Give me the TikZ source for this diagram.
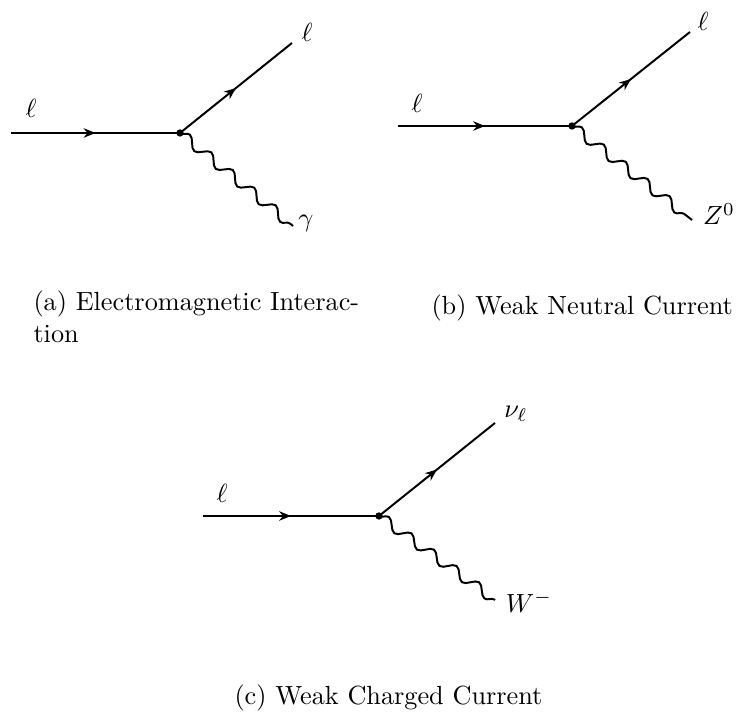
\documentclass[tikz,border=0pt]{standalone}
\usepackage{amsmath,amssymb}
\usetikzlibrary{positioning,arrows.meta,decorations.markings,decorations.pathmorphing}

\begin{document}
\begin{tikzpicture}[x=0.381pt,y=-0.381pt,>={Stealth[length=4.5pt,width=3.6pt]},
  fermion/.style={line width=0.75pt,postaction={decorate},
    decoration={markings,mark=at position 0.5 with {\arrow{>}}}},
  photon/.style={line width=0.75pt,decorate,
    decoration={snake,segment length=10.6pt,amplitude=1.9pt}},
  vtx/.style={circle,fill,inner sep=0pt,minimum size=2.8pt},
  lbl/.style={inner sep=0pt},
  subcap/.style={inner sep=0pt,anchor=base west}]
\useasboundingbox (0,0) rectangle (738,715);
% (a) electromagnetic
\coordinate (ai) at (11,133);
\node[vtx] (av) at (180,133) {};
\coordinate (ao) at (292,43);
\coordinate (ag) at (293,226);
\draw[fermion] (ai) -- (av.center);
\draw[fermion] (av.center) -- (ao);
\draw[photon] (av.center) -- (ag);
\node[lbl] (ail) at (31,108) {$\ell$};
\node[lbl] (aol) at (307,32) {$\ell$};
\node[lbl] (agl) at (306,223) {$\gamma$};
\node[subcap] (capa) at (33,311) {(a) Electromagnetic Interac-};
\node[subcap] (capa2) at (33,343) {tion};
% (b) weak neutral current
\coordinate (bi) at (398,126);
\node[vtx] (bv) at (572,126) {};
\coordinate (bo) at (690,32);
\coordinate (bz) at (692,220);
\draw[fermion] (bi) -- (bv.center);
\draw[fermion] (bv.center) -- (bo);
\draw[photon] (bv.center) -- (bz);
\node[lbl] (bil) at (417,103) {$\ell$};
\node[lbl] (bol) at (703,21) {$\ell$};
\node[lbl] (bzl) at (719,214) {$Z^0$};
\node[subcap] (capb) at (431,315) {(b) Weak Neutral Current};
% (c) weak charged current
\coordinate (ci) at (203,516);
\node[vtx] (cv) at (379,516) {};
\coordinate (co) at (495,423);
\coordinate (cw) at (495,600);
\draw[fermion] (ci) -- (cv.center);
\draw[fermion] (cv.center) -- (co);
\draw[photon] (cv.center) -- (cw);
\node[lbl] (cil) at (222,493) {$\ell$};
\node[lbl] (col) at (516,414) {$\nu_\ell$};
\node[lbl] (cwl) at (529,602) {$W^-$};
\node[subcap] (capc) at (234,705) {(c) Weak Charged Current};
\end{tikzpicture}
\end{document}
